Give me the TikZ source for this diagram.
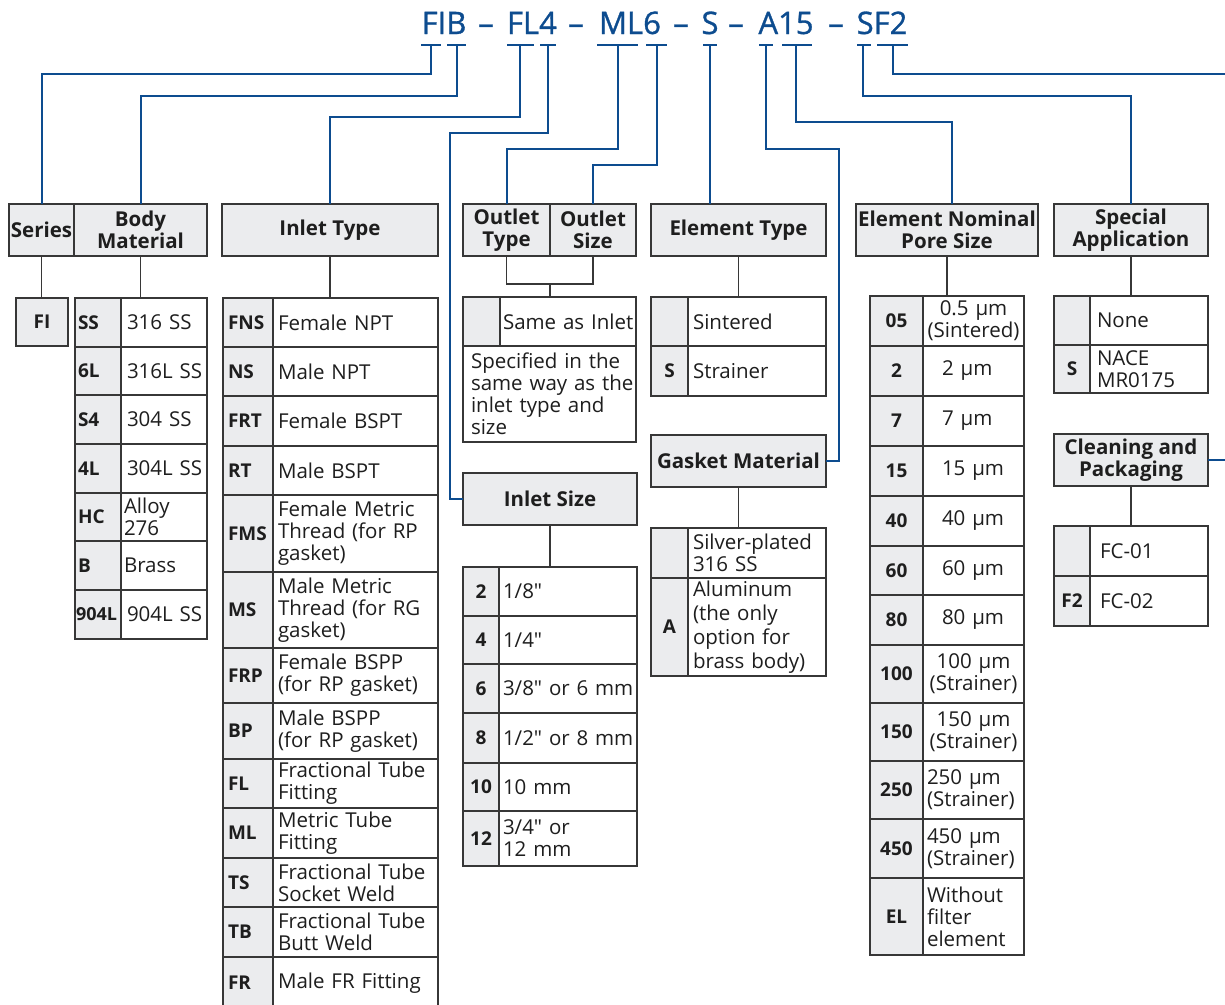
\documentclass[tikz,border=0pt]{standalone}
\usepackage{fontspec}
\setmainfont{Open Sans}[Ligatures=TeXOff]
\newfontfamily\codefont{Open Sans}[Ligatures=TeXOff, FakeBold=1]
\hyphenpenalty=10000
\exhyphenpenalty=10000
\definecolor{codeblue}{RGB}{13,76,143}
\definecolor{cellgray}{RGB}{235,236,238}
\definecolor{rulegray}{RGB}{55,55,55}
\definecolor{ink}{RGB}{30,30,30}

\begin{document}
\begin{tikzpicture}
[every node/.style={inner sep=0pt, outer sep=0pt, text=ink},
 headbox/.style={rectangle, anchor=north west, minimum width=#1, minimum height=52pt, fill=cellgray, draw=rulegray, line width=1.3pt, align=center, font=\fontsize{20.5}{22}\selectfont\bfseries},
 codecell/.style 2 args={rectangle, anchor=north west, minimum width=#1, minimum height=#2, fill=cellgray, draw=rulegray, line width=1.3pt, align=center, font=\fontsize{19}{22}\selectfont\bfseries},
 codeleft/.style n args={3}{codecell={0pt}{#3}, align=left, text width=#1, inner xsep=#2},
 textcell/.style n args={3}{rectangle, anchor=north west, text width=#1, inner xsep=#2, minimum height=#3, fill=white, draw=rulegray, line width=1.3pt, align=left, font=\fontsize{20.5}{22}\selectfont},
 codetext/.style={anchor=base, text=codeblue, font=\codefont\fontsize{31}{31}\selectfont},
 codeline/.style={line width=2pt, draw=codeblue},
 wire/.style={line width=1.3pt, draw=rulegray}]
\useasboundingbox (0pt,0pt) rectangle (1225pt,-1004pt);
\clip (0pt,0pt) rectangle (1225pt,-1004pt);

% ordering code
\node (fib) [codetext] at (444pt,-34pt) {FIB};
\node (d1) [codetext] at (486pt,-34pt) {–};
\node (fl4) [codetext] at (532pt,-34pt) {FL4};
\node (d2) [codetext] at (576pt,-34pt) {–};
\node (ml6) [codetext] at (630pt,-34pt) {ML6};
\node (d3) [codetext] at (681pt,-34pt) {–};
\node (s) [codetext] at (710pt,-34pt) {S};
\node (d4) [codetext] at (736pt,-34pt) {–};
\node (a15) [codetext] at (786pt,-34pt) {A15};
\node (d5) [codetext] at (836pt,-34pt) {–};
\node (sf2) [codetext] at (882pt,-34pt) {SF2};

\coordinate (tFI) at (431pt,-45pt);
\coordinate (tB) at (457pt,-45pt);
\coordinate (tFL) at (520pt,-45pt);
\coordinate (t4) at (548pt,-45pt);
\coordinate (tML) at (618pt,-45pt);
\coordinate (t6) at (657pt,-45pt);
\coordinate (tS) at (710pt,-45pt);
\coordinate (tA) at (766pt,-45pt);
\coordinate (t15) at (796pt,-45pt);
\coordinate (tSA) at (863pt,-45pt);
\coordinate (tF2) at (893pt,-45pt);
\draw [codeline] (421pt,-45pt) -- (441pt,-45pt);
\draw [codeline] (447pt,-45pt) -- (466pt,-45pt);
\draw [codeline] (507pt,-45pt) -- (534pt,-45pt);
\draw [codeline] (540pt,-45pt) -- (556pt,-45pt);
\draw [codeline] (597pt,-45pt) -- (638pt,-45pt);
\draw [codeline] (646pt,-45pt) -- (667pt,-45pt);
\draw [codeline] (703pt,-45pt) -- (717pt,-45pt);
\draw [codeline] (759pt,-45pt) -- (773pt,-45pt);
\draw [codeline] (782pt,-45pt) -- (812pt,-45pt);
\draw [codeline] (857pt,-45pt) -- (871pt,-45pt);
\draw [codeline] (877pt,-45pt) -- (908pt,-45pt);

% headers
\node (series) [headbox=65pt] at (9pt,-204pt) {Series};
\node (body) [headbox=133pt] at (74pt,-204pt) {Body\\Material};
\node (inlettype) [headbox=216pt] at (222pt,-204pt) {Inlet Type};
\node (outlettype) [headbox=87pt] at (463pt,-204pt) {Outlet\\Type};
\node (outletsize) [headbox=86pt] at (550pt,-204pt) {Outlet\\Size};
\node (elemtype) [headbox=175pt] at (651pt,-204pt) {Element Type};
\node (pore) [headbox=182pt] at (856pt,-204pt) {Element Nominal\\Pore Size};
\node (special) [headbox=154pt] at (1054pt,-204pt) {Special\\Application};
\node (gasket) [headbox=175pt] at (651pt,-435pt) {Gasket Material};
\node (inletsize) [headbox=174pt] at (463pt,-473pt) {Inlet Size};
\node (cleaning) [headbox=154pt] at (1054pt,-434pt) {Cleaning and\\Packaging};

% series
\node (fi) [codecell={52pt}{48pt}] at (16pt,-298pt) {FI};

% body material
\node (b1) [codeleft={40pt}{3pt}{49pt}] at (75pt,-298pt) {SS};
\node (b1t) [textcell={74pt}{6pt}{49pt}] at (121pt,-298pt) {316~SS};
\node (b2) [codeleft={40pt}{3pt}{48pt}] at (75pt,-347pt) {6L};
\node (b2t) [textcell={74pt}{6pt}{48pt}] at (121pt,-347pt) {316L~SS};
\node (b3) [codeleft={40pt}{3pt}{49pt}] at (75pt,-395pt) {S4};
\node (b3t) [textcell={74pt}{6pt}{49pt}] at (121pt,-395pt) {304~SS};
\node (b4) [codeleft={40pt}{3pt}{49pt}] at (75pt,-444pt) {4L};
\node (b4t) [textcell={74pt}{6pt}{49pt}] at (121pt,-444pt) {304L~SS};
\node (b5) [codeleft={40pt}{3pt}{48pt}] at (75pt,-493pt) {HC};
\node (b5t) [textcell={80pt}{3pt}{48pt}] at (121pt,-493pt) {Alloy\\276};
\node (b6) [codeleft={40pt}{3pt}{49pt}] at (75pt,-541pt) {B};
\node (b6t) [textcell={80pt}{3pt}{49pt}] at (121pt,-541pt) {Brass};
\node (b7) [codeleft={44pt}{1pt}{49pt}, font=\fontsize{18}{22}\selectfont\bfseries] at (75pt,-590pt) {904L};
\node (b7t) [textcell={74pt}{6pt}{49pt}] at (121pt,-590pt) {904L~SS};

% inlet type
\node (i1) [codeleft={40pt}{5pt}{49pt}] at (223pt,-298pt) {FNS};
\node (i1t) [textcell={155pt}{5pt}{49pt}] at (273pt,-298pt) {Female NPT};
\node (i2) [codeleft={40pt}{5pt}{49pt}] at (223pt,-347pt) {NS};
\node (i2t) [textcell={155pt}{5pt}{49pt}] at (273pt,-347pt) {Male NPT};
\node (i3) [codeleft={40pt}{5pt}{50pt}] at (223pt,-396pt) {FRT};
\node (i3t) [textcell={155pt}{5pt}{50pt}] at (273pt,-396pt) {Female BSPT};
\node (i4) [codeleft={40pt}{5pt}{49pt}] at (223pt,-446pt) {RT};
\node (i4t) [textcell={155pt}{5pt}{49pt}] at (273pt,-446pt) {Male BSPT};
\node (i5) [codeleft={40pt}{5pt}{77pt}] at (223pt,-495pt) {FMS};
\node (i5t) [textcell={155pt}{5pt}{77pt}] at (273pt,-495pt) {Female Metric\\Thread (for RP\\gasket)};
\node (i6) [codeleft={40pt}{5pt}{76pt}] at (223pt,-572pt) {MS};
\node (i6t) [textcell={155pt}{5pt}{76pt}] at (273pt,-572pt) {Male Metric\\Thread (for RG\\gasket)};
\node (i7) [codeleft={40pt}{5pt}{55pt}] at (223pt,-648pt) {FRP};
\node (i7t) [textcell={155pt}{5pt}{55pt}] at (273pt,-648pt) {Female BSPP\\(for~RP~gasket)};
\node (i8) [codeleft={40pt}{5pt}{56pt}] at (223pt,-703pt) {BP};
\node (i8t) [textcell={155pt}{5pt}{56pt}] at (273pt,-703pt) {Male BSPP\\(for~RP~gasket)};
\node (i9) [codeleft={40pt}{5pt}{49pt}] at (223pt,-759pt) {FL};
\node (i9t) [textcell={155pt}{5pt}{49pt}] at (273pt,-759pt) {Fractional~Tube\\Fitting};
\node (i10) [codeleft={40pt}{5pt}{50pt}] at (223pt,-808pt) {ML};
\node (i10t) [textcell={155pt}{5pt}{50pt}] at (273pt,-808pt) {Metric Tube\\Fitting};
\node (i11) [codeleft={40pt}{5pt}{49pt}] at (223pt,-858pt) {TS};
\node (i11t) [textcell={155pt}{5pt}{49pt}] at (273pt,-858pt) {Fractional~Tube\\Socket Weld};
\node (i12) [codeleft={40pt}{5pt}{50pt}] at (223pt,-907pt) {TB};
\node (i12t) [textcell={155pt}{5pt}{50pt}] at (273pt,-907pt) {Fractional~Tube\\Butt Weld};
\node (i13) [codeleft={40pt}{5pt}{52pt}] at (223pt,-957pt) {FR};
\node (i13t) [textcell={155pt}{5pt}{52pt}] at (273pt,-957pt) {Male FR Fitting};

% outlet
\node (o1) [codecell={37pt}{49pt}] at (463pt,-297pt) {};
\node (o1t) [textcell={130pt}{3pt}{49pt}] at (500pt,-297pt) {Same~as~Inlet};
\node (o2t) [textcell={157pt}{8pt}{96pt}] at (463pt,-346pt) {Specified~in~the\\same~way~as~the\\inlet~type~and\\size};

% inlet size
\node (s1) [codecell={36pt}{49pt}] at (463pt,-567pt) {2};
\node (s1t) [textcell={130pt}{4pt}{49pt}] at (499pt,-567pt) {1/8"};
\node (s2) [codecell={36pt}{48pt}] at (463pt,-616pt) {4};
\node (s2t) [textcell={130pt}{4pt}{48pt}] at (499pt,-616pt) {1/4"};
\node (s3) [codecell={36pt}{49pt}] at (463pt,-664pt) {6};
\node (s3t) [textcell={130pt}{4pt}{49pt}] at (499pt,-664pt) {3/8"~or~6~mm};
\node (s4) [codecell={36pt}{50pt}] at (463pt,-713pt) {8};
\node (s4t) [textcell={130pt}{4pt}{50pt}] at (499pt,-713pt) {1/2"~or~8~mm};
\node (s5) [codecell={36pt}{48pt}] at (463pt,-763pt) {10};
\node (s5t) [textcell={130pt}{4pt}{48pt}] at (499pt,-763pt) {10~mm};
\node (s6) [codecell={36pt}{55pt}] at (463pt,-811pt) {12};
\node (s6t) [textcell={130pt}{4pt}{55pt}] at (499pt,-811pt) {3/4"~or\\12~mm};

% element type
\node (e1) [codecell={37pt}{49pt}] at (651pt,-297pt) {};
\node (e1t) [textcell={128pt}{5pt}{49pt}] at (688pt,-297pt) {Sintered};
\node (e2) [codecell={37pt}{50pt}] at (651pt,-346pt) {S};
\node (e2t) [textcell={128pt}{5pt}{50pt}] at (688pt,-346pt) {Strainer};

% gasket material
\node (g1) [codecell={37pt}{50pt}] at (651pt,-528pt) {};
\node (g1t) [textcell={128pt}{5pt}{50pt}] at (688pt,-528pt) {Silver-plated\\316~SS};
\node (g2) [codecell={37pt}{98pt}] at (651pt,-578pt) {A};
\node (g2t) [textcell={128pt}{5pt}{98pt}, font=\fontsize{20.5}{24}\selectfont] at (688pt,-578pt) {Aluminum\\(the only\\option for\\brass body)};

% pore size
\node (p1) [codecell={53pt}{50pt}] at (870pt,-296pt) {05};
\node (p1t) [textcell={93pt}{4pt}{50pt}, align=center] at (923pt,-296pt) {0.5 µm\\(Sintered)};
\node (p2) [codecell={53pt}{50pt}] at (870pt,-346pt) {2};
\node (p2t) [textcell={63pt}{19pt}{50pt}] at (923pt,-346pt) {2~µm};
\node (p3) [codecell={53pt}{50pt}] at (870pt,-396pt) {7};
\node (p3t) [textcell={63pt}{19pt}{50pt}] at (923pt,-396pt) {7~µm};
\node (p4) [codecell={53pt}{50pt}] at (870pt,-446pt) {15};
\node (p4t) [textcell={63pt}{19pt}{50pt}] at (923pt,-446pt) {15~µm};
\node (p5) [codecell={53pt}{50pt}] at (870pt,-496pt) {40};
\node (p5t) [textcell={63pt}{19pt}{50pt}] at (923pt,-496pt) {40~µm};
\node (p6) [codecell={53pt}{49pt}] at (870pt,-546pt) {60};
\node (p6t) [textcell={63pt}{19pt}{49pt}] at (923pt,-546pt) {60~µm};
\node (p7) [codecell={53pt}{50pt}] at (870pt,-595pt) {80};
\node (p7t) [textcell={63pt}{19pt}{50pt}] at (923pt,-595pt) {80~µm};
\node (p8) [codecell={53pt}{58pt}] at (870pt,-645pt) {100};
\node (p8t) [textcell={93pt}{4pt}{58pt}, align=center] at (923pt,-645pt) {100 µm\\(Strainer)};
\node (p9) [codecell={53pt}{58pt}] at (870pt,-703pt) {150};
\node (p9t) [textcell={93pt}{4pt}{58pt}, align=center] at (923pt,-703pt) {150 µm\\(Strainer)};
\node (p10) [codecell={53pt}{58pt}] at (870pt,-761pt) {250};
\node (p10t) [textcell={93pt}{4pt}{58pt}] at (923pt,-761pt) {250 µm\\(Strainer)};
\node (p11) [codecell={53pt}{59pt}] at (870pt,-819pt) {450};
\node (p11t) [textcell={93pt}{4pt}{59pt}] at (923pt,-819pt) {450 µm\\(Strainer)};
\node (p12) [codecell={53pt}{77pt}] at (870pt,-878pt) {EL};
\node (p12t) [textcell={93pt}{4pt}{77pt}] at (923pt,-878pt) {Without\\filter\\element};

% special application
\node (a1) [codecell={36pt}{49pt}] at (1054pt,-296pt) {};
\node (a1t) [textcell={104pt}{7pt}{49pt}] at (1090pt,-296pt) {None};
\node (a2) [codecell={36pt}{48pt}] at (1054pt,-345pt) {S};
\node (a2t) [textcell={104pt}{7pt}{48pt}] at (1090pt,-345pt) {NACE\\MR0175};

% cleaning and packaging
\node (c1) [codecell={36pt}{50pt}] at (1054pt,-526pt) {};
\node (c1t) [textcell={98pt}{10pt}{50pt}] at (1090pt,-526pt) {FC-01};
\node (c2) [codecell={36pt}{50pt}] at (1054pt,-576pt) {F2};
\node (c2t) [textcell={98pt}{10pt}{50pt}] at (1090pt,-576pt) {FC-02};

% code to header
\draw [codeline] (tFI) -- ++(0pt,-29pt) -| (series.north);
\draw [codeline] (tB) -- ++(0pt,-51pt) -| (body.north);
\draw [codeline] (tFL) -- ++(0pt,-72pt) -| (inlettype.north);
\draw [codeline] (t4) -- ++(0pt,-88pt) -| (450pt,-499pt) -- (inletsize.west);
\draw [codeline] (tML) -- ++(0pt,-104pt) -| (outlettype.north);
\draw [codeline] (t6) -- ++(0pt,-120pt) -| (outletsize.north);
\draw [codeline] (tS) -- (tS |- elemtype.north);
\draw [codeline] (tA) -- ++(0pt,-104pt) -| (839pt,-461pt) -- (gasket.east);
\draw [codeline] (t15) -- ++(0pt,-77pt) -| ([xshift=5pt]pore.north);
\draw [codeline] (tSA) -- ++(0pt,-51pt) -| (special.north);
\draw [codeline] (tF2) -- ++(0pt,-29pt) -| (1240pt,-460pt) -- (cleaning.east);

% header to table
\draw [wire] (series.south) -- (series.south |- fi.north);
\draw [wire] (body.south) -- (body.south |- b1.north);
\draw [wire] (inlettype.south) -- (inlettype.south |- i1.north);
\draw [wire] (outlettype.south) -- ++(0pt,-28pt) -| (outletsize.south);
\draw [wire] ([yshift=-28pt]outletsize.south west) -- (outletsize.south west |- o1t.north);
\draw [wire] (elemtype.south) -- (elemtype.south |- e1.north);
\draw [wire] (gasket.south) -- (gasket.south |- g1.north);
\draw [wire] (inletsize.south) -- (inletsize.south |- s1.north);
\draw [wire] (pore.south) -- (pore.south |- p1.north);
\draw [wire] (special.south) -- (special.south |- a1.north);
\draw [wire] (cleaning.south) -- (cleaning.south |- c1.north);
\end{tikzpicture}
\end{document}
